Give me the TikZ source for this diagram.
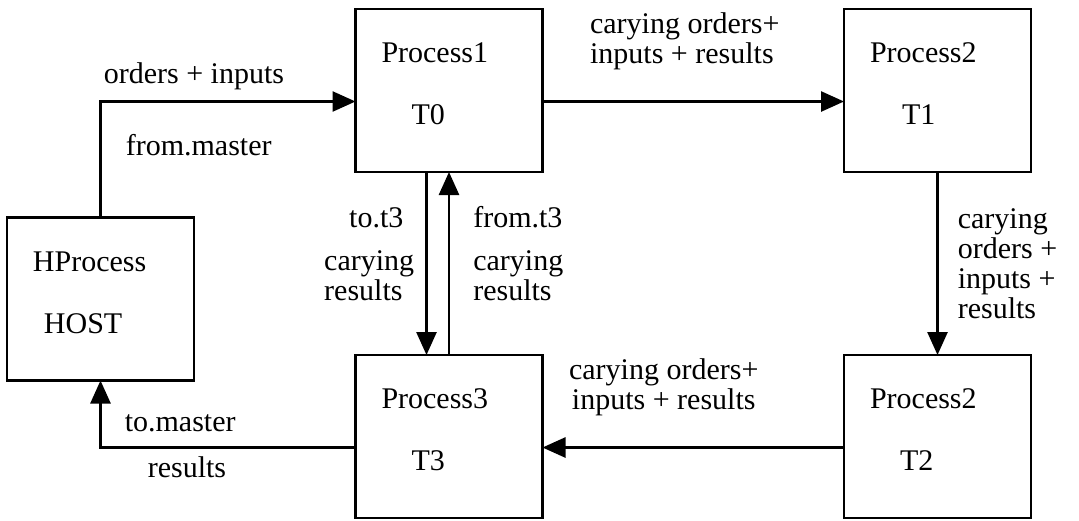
\documentclass[tikz,border=0pt]{standalone}
\usepackage{fontspec}
\setmainfont{Liberation Serif}
\usepackage{tikz}
\usetikzlibrary{positioning,arrows.meta}
\tikzstyle{proc} = [
rectangle,
draw=black,
line width=1.3pt,
outer sep=0pt,
minimum width=93.5pt,
minimum height=81.5pt,
text width=67.5pt,
inner xsep=13pt,
align=left,
text depth=37.5pt,
font=\fontsize{15}{15}\selectfont
]
\tikzstyle{tag} = [
inner sep=0pt,
font=\fontsize{15}{15}\selectfont
]
\tikzstyle{link} = [
line width=1.3pt,
-{Triangle[length=11.5pt,width=10pt]}
]

\begin{document}
\begin{tikzpicture}
	\useasboundingbox (-224.5pt,-214.75pt) rectangle (315pt,45.25pt);
	%Nodes
	\node[proc] (p1) {Process1\\[16pt]\hspace*{15pt}T0};
	\node[proc,right=150.75pt of p1] (p2) {Process2\\[16pt]\hspace*{16pt}T1};
	\node[proc,below=91.5pt of p1] (p3) {Process3\\[16pt]\hspace*{15pt}T3};
	\node[proc,below=91.5pt of p2] (p4) {Process2\\[16pt]\hspace*{15pt}T2};
	\node[proc,below left=22.75pt and 80.75pt of p1] (host) {HProcess\\[16pt]\hspace*{5.5pt}HOST};
	%Arrows
	\draw[link] (host.north) |- ([yshift=-5.5pt]p1.west)
		node[tag,pos=0.5,anchor=base west,xshift=1pt,yshift=9pt] {orders + inputs}
		node[tag,pos=0.5,anchor=base west,xshift=12pt,yshift=-27pt] {from.master};
	\draw[link] ([yshift=-5.5pt]p1.east) -- ([yshift=-5.5pt]p2.west)
		node[tag,align=left,midway,above=15pt,xshift=-4.25pt] {carying orders+\\inputs + results};
	\draw[link] (p2.south) -- (p4.north)
		node[tag,align=left,midway,right=9.5pt] {carying\\orders +\\inputs +\\results};
	\draw[link] ([yshift=-5.5pt]p4.west) -- ([yshift=-5.5pt]p3.east)
		node[tag,align=center,midway,above=15pt,xshift=-14.75pt] {carying orders+\\inputs + results};
	\draw[link] ([yshift=-5.5pt]p3.west) -| (host.south)
		node[tag,pos=0.5,anchor=base west,xshift=11.5pt,yshift=8pt] {to.master}
		node[tag,pos=0.5,anchor=base west,xshift=23pt,yshift=-15pt] {results};
	\draw[link] ([xshift=-11.25pt]p1.south) -- ([xshift=-11.25pt]p3.north)
		node[tag,align=left,midway,left=5.5pt,yshift=4.75pt] {\hspace*{12.5pt}to.t3\\[6.5pt]carying\\results};
	\draw[link] (p3.north) -- (p1.south)
		node[tag,align=left,midway,right=11.5pt,yshift=4.75pt] {from.t3\\[6.5pt]carying\\results};
\end{tikzpicture}
\end{document}
